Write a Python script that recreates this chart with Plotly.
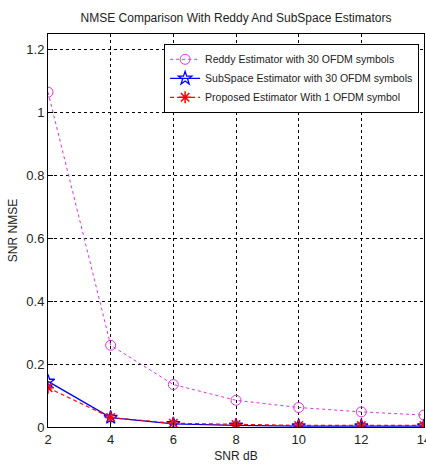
import plotly.graph_objects as go

snr = [2, 4, 6, 8, 10, 12, 14]
reddy = [1.065, 0.26, 0.135, 0.085, 0.062, 0.048, 0.038]
subspace = [0.145, 0.03, 0.01, 0.005, 0.003, 0.003, 0.003]
proposed = [0.125, 0.03, 0.012, 0.008, 0.005, 0.005, 0.005]

names = ["Reddy Estimator with 30 OFDM symbols",
         "SubSpace Estimator with 30 OFDM symbols",
         "Proposed Estimator With 1 OFDM symbol"]

fig = go.Figure()
fig.add_trace(go.Scatter(x=snr, y=reddy, name=names[0], mode="lines+markers",
                         line=dict(color="#dd33dd", width=1, dash="dot"),
                         marker=dict(symbol="circle-open", size=10, color="#dd33dd", line=dict(width=1))))
fig.add_trace(go.Scatter(x=snr, y=subspace, name=names[1], mode="lines+markers",
                         line=dict(color="#0000ff", width=1.3),
                         marker=dict(symbol="star-open", size=10, color="#0000ff", line=dict(width=1.3))))
fig.add_trace(go.Scatter(x=snr, y=proposed, name=names[2], mode="lines+markers",
                         line=dict(color="#ff0000", width=1.2, dash="4px,3px"),
                         marker=dict(symbol="asterisk-open", size=10, color="#ff0000", line=dict(width=1.5))))

font_family = "Liberation Sans, Arial, sans-serif"
fig.update_layout(
    width=426, height=466,
    margin=dict(l=48, r=2, t=34, b=39, autoexpand=False),
    paper_bgcolor="white", plot_bgcolor="white",
    font=dict(family=font_family, size=12, color="#222222"),
    title=dict(text="NMSE Comparison With Reddy And SubSpace Estimators",
               x=(48 + 188) / 426, xanchor="center", y=1 - 18 / 466, yanchor="middle",
               font=dict(size=12, family=font_family, color="#222222")),
    showlegend=True,
    legend=dict(x=0.987, xanchor="right", y=0.975, yanchor="top",
                bgcolor="white", bordercolor="black", borderwidth=1,
                font=dict(size=10.5, family=font_family, color="#222222"),
                tracegroupgap=0, itemwidth=30),
)
fig.update_xaxes(range=[2, 14], tickvals=snr, ticktext=[str(v) for v in snr],
                 title=dict(text="SNR dB", standoff=6, font=dict(size=12)),
                 showline=True, linecolor="black", linewidth=1, mirror=True,
                 ticks="inside", ticklen=5, tickcolor="black",
                 showgrid=True, gridcolor="black", griddash="dot", gridwidth=1,
                 zeroline=False, tickfont=dict(size=13), ticklabeloverflow="allow",
                 automargin=False)
fig.update_yaxes(range=[0, 1.25], tickvals=[0, 0.2, 0.4, 0.6, 0.8, 1.0, 1.2],
                 ticktext=["0", "0.2", "0.4", "0.6", "0.8", "1", "1.2"],
                 title=dict(text="SNR NMSE", standoff=6, font=dict(size=12)),
                 showline=True, linecolor="black", linewidth=1, mirror=True,
                 ticks="inside", ticklen=5, tickcolor="black",
                 showgrid=True, gridcolor="black", griddash="dot", gridwidth=1,
                 zeroline=False, tickfont=dict(size=13), automargin=False)

fig.write_html("out.html", config={"displayModeBar": False},
               post_script="document.body.style.margin='0';document.body.style.overflow='hidden';")
